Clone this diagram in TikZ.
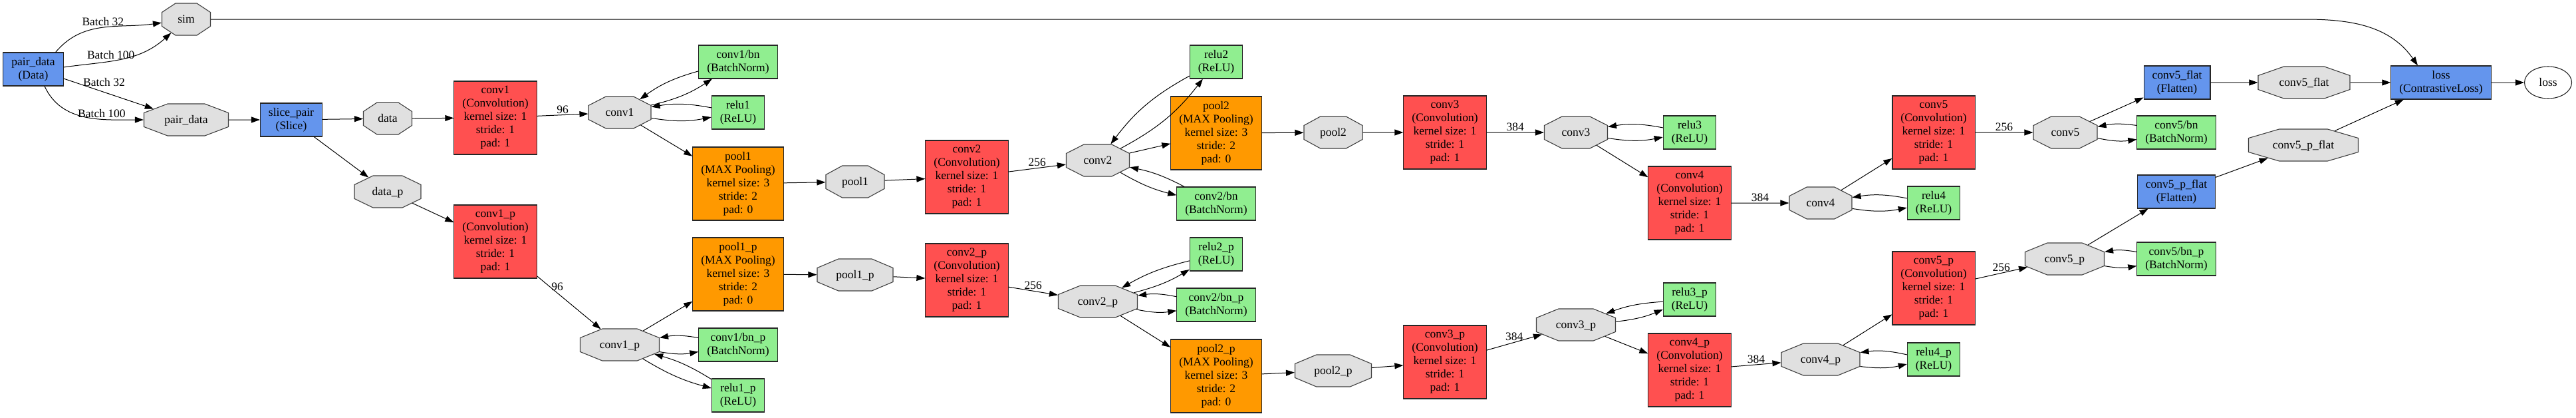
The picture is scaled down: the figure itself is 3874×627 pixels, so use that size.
\documentclass[tikz,border=0pt]{standalone}
\usepackage{fontspec}
\setmainfont{Liberation Serif}
\usetikzlibrary{shapes.misc,shapes.geometric,arrows.meta}

\definecolor{convred}{HTML}{FF5050}
\definecolor{poolorange}{HTML}{FF9900}
\definecolor{bngreen}{HTML}{90EE90}
\definecolor{datablue}{HTML}{6495ED}
\definecolor{blobgray}{HTML}{E0E0E0}

\newcommand\gvfont{\fontsize{17.5}{20}\selectfont}

\tikzset{
  layer/.style={rectangle, draw=black!85, line width=1.1pt, align=center,
    inner xsep=12.5pt, inner ysep=0pt, font=\gvfont},
  conv/.style={layer, fill=convred, minimum height=110},
  pool/.style={layer, fill=poolorange, minimum height=110},
  inplace/.style={layer, fill=bngreen, minimum height=50},
  io/.style={layer, fill=datablue, minimum height=50},
  blob/.code={%
    \pgfmathsetmacro\blobtw{0.72*#1}%
    \pgfmathsetmacro\blobxs{0.14*#1}%
    \pgfmathsetmacro\blobang{atan(0.28*#1/13.5)}%
    \tikzset{chamfered rectangle, chamfered rectangle xsep=\blobxs pt,
      chamfered rectangle ysep=6.75pt, chamfered rectangle angle=\blobang,
      text width=\blobtw pt, text height=22.25pt, text depth=12.25pt,
      align=center, inner sep=0pt, draw=black!75, line width=1.1pt,
      fill=blobgray, font=\gvfont}},
  arr/.style={-{Triangle[length=13pt,width=9pt]}, line width=1pt},
  lbl/.style={font=\gvfont, inner sep=2pt},
}

\begin{document}
\begin{tikzpicture}[x=1pt,y=1pt]
\useasboundingbox (0,0) rectangle (3874,-627);

% input and split
\node[io] (pairdata) at (50,-104) {pair\_data\\(Data)};
\node[blob=73] (simb) at (280,-29) {sim};
\node[blob=127] (pairdatab) at (280,-180) {pair\_data};
\node[io] (slicepair) at (438,-180) {slice\_pair\\(Slice)};
\node[blob=73] (datab) at (583,-178) {data};
\node[blob=100] (datapb) at (583,-288) {data\_p};

% upper branch
\node[conv] (conv1) at (745,-177) {conv1\\(Convolution)\\kernel size: 1\\stride: 1\\pad: 1};
\node[blob=94] (conv1b) at (932,-169) {conv1};
\node[inplace] (conv1bn) at (1110,-93) {conv1/bn\\(BatchNorm)};
\node[inplace] (relu1) at (1110,-169) {relu1\\(ReLU)};
\node[pool] (pool1) at (1110,-276) {pool1\\(MAX Pooling)\\kernel size: 3\\stride: 2\\pad: 0};
\node[blob=88] (pool1b) at (1286,-273) {pool1};
\node[conv] (conv2) at (1454,-266) {conv2\\(Convolution)\\kernel size: 1\\stride: 1\\pad: 1};
\node[blob=95] (conv2b) at (1651,-241) {conv2};
\node[inplace] (relu2) at (1829,-93) {relu2\\(ReLU)};
\node[pool] (pool2) at (1829,-200) {pool2\\(MAX Pooling)\\kernel size: 3\\stride: 2\\pad: 0};
\node[inplace] (conv2bn) at (1829,-306) {conv2/bn\\(BatchNorm)};
\node[blob=88] (pool2b) at (2005,-199) {pool2};
\node[conv] (conv3) at (2173,-199) {conv3\\(Convolution)\\kernel size: 1\\stride: 1\\pad: 1};
\node[blob=95] (conv3b) at (2370,-199) {conv3};
\node[inplace] (relu3) at (2541,-199) {relu3\\(ReLU)};
\node[conv] (conv4) at (2541,-305) {conv4\\(Convolution)\\kernel size: 1\\stride: 1\\pad: 1};
\node[blob=94] (conv4b) at (2738,-305) {conv4};
\node[inplace] (relu4) at (2908,-305) {relu4\\(ReLU)};
\node[conv] (conv5) at (2908,-199) {conv5\\(Convolution)\\kernel size: 1\\stride: 1\\pad: 1};
\node[blob=96] (conv5b) at (3106,-199) {conv5};
\node[inplace] (conv5bn) at (3273,-199) {conv5/bn\\(BatchNorm)};
\node[io] (conv5flat) at (3274,-124) {conv5\_flat\\(Flatten)};
\node[blob=138] (conv5flatb) at (3465,-124) {conv5\_flat};

% lower branch
\node[conv] (conv1p) at (745,-363) {conv1\_p\\(Convolution)\\kernel size: 1\\stride: 1\\pad: 1};
\node[blob=119] (conv1pb) at (932,-518) {conv1\_p};
\node[pool] (pool1p) at (1110,-412) {pool1\_p\\(MAX Pooling)\\kernel size: 3\\stride: 2\\pad: 0};
\node[inplace] (conv1bnp) at (1110,-518) {conv1/bn\_p\\(BatchNorm)};
\node[inplace] (relu1p) at (1110,-594) {relu1\_p\\(ReLU)};
\node[blob=114] (pool1pb) at (1286,-413) {pool1\_p};
\node[conv] (conv2p) at (1454,-421) {conv2\_p\\(Convolution)\\kernel size: 1\\stride: 1\\pad: 1};
\node[blob=119] (conv2pb) at (1651,-453) {conv2\_p};
\node[inplace] (relu2p) at (1829,-382) {relu2\_p\\(ReLU)};
\node[inplace] (conv2bnp) at (1829,-458) {conv2/bn\_p\\(BatchNorm)};
\node[pool] (pool2p) at (1829,-565) {pool2\_p\\(MAX Pooling)\\kernel size: 3\\stride: 2\\pad: 0};
\node[blob=115] (pool2pb) at (2005,-557) {pool2\_p};
\node[conv] (conv3p) at (2173,-544) {conv3\_p\\(Convolution)\\kernel size: 1\\stride: 1\\pad: 1};
\node[blob=119] (conv3pb) at (2370,-488) {conv3\_p};
\node[inplace] (relu3p) at (2541,-450) {relu3\_p\\(ReLU)};
\node[conv] (conv4p) at (2541,-556) {conv4\_p\\(Convolution)\\kernel size: 1\\stride: 1\\pad: 1};
\node[blob=118] (conv4pb) at (2738,-540) {conv4\_p};
\node[inplace] (relu4p) at (2908,-540) {relu4\_p\\(ReLU)};
\node[conv] (conv5p) at (2908,-433) {conv5\_p\\(Convolution)\\kernel size: 1\\stride: 1\\pad: 1};
\node[blob=119] (conv5pb) at (3105,-389) {conv5\_p};
\node[inplace] (conv5bnp) at (3273,-389) {conv5/bn\_p\\(BatchNorm)};
\node[io] (conv5pflat) at (3273,-288) {conv5\_p\_flat\\(Flatten)};
\node[blob=165] (conv5pflatb) at (3464,-218) {conv5\_p\_flat};

% loss
\node[io] (loss) at (3671,-124) {loss\\(ContrastiveLoss)};
\node[ellipse, draw=black!85, line width=1.1pt, minimum width=71, minimum height=48, inner sep=0pt, font=\gvfont] (lossb) at (3832,-124) {loss};
\coordinate (simturn) at (3467,-29);

% edges from the data layer
\draw[arr] ([xshift=-12pt]pairdata.north east) to[out=50,in=188] node[lbl,midway,above]{Batch 32} (simb);
\draw[arr] ([yshift=3pt]pairdata.east) to[out=8,in=222] node[lbl,pos=0.4,above]{Batch 100} (simb);
\draw[arr] ([yshift=-14pt]pairdata.east) -- node[lbl,pos=0.45,above=6pt]{Batch 32} (pairdatab);
\draw[arr] ([xshift=17pt]pairdata.south) to[out=-65,in=180] node[lbl,pos=0.65,above]{Batch 100} (pairdatab);
\draw[arr] (simb) -- (simturn) to[out=0,in=125] ([xshift=-35pt]loss.north);
\draw[arr] (pairdatab) -- (slicepair);
\draw[arr] (slicepair) -- (datab);
\draw[arr] (slicepair) -- (datapb);
\draw[arr] (datab) -- (conv1);
\draw[arr] (datapb) -- (conv1p);

% upper branch edges
\draw[arr] (conv1) -- node[lbl,midway,above]{96} (conv1b);
\draw[arr] (conv1b) to[bend right=10] (conv1bn);
\draw[arr] (conv1bn) to[bend right=10] (conv1b);
\draw[arr] (conv1b) to[bend right=10] (relu1);
\draw[arr] (relu1) to[bend right=10] (conv1b);
\draw[arr] (conv1b) -- (pool1);
\draw[arr] (pool1) -- (pool1b);
\draw[arr] (pool1b) -- (conv2);
\draw[arr] (conv2) -- node[lbl,midway,above]{256} (conv2b);
\draw[arr] (conv2b) to[bend right=12] (relu2);
\draw[arr] (relu2) to[bend right=12] (conv2b);
\draw[arr] (conv2b) -- (pool2);
\draw[arr] (conv2b) to[bend right=8] (conv2bn);
\draw[arr] (conv2bn) to[bend right=8] (conv2b);
\draw[arr] (pool2) -- (pool2b);
\draw[arr] (pool2b) -- (conv3);
\draw[arr] (conv3) -- node[lbl,midway,above]{384} (conv3b);
\draw[arr] (conv3b) to[bend right=10] (relu3);
\draw[arr] (relu3) to[bend right=10] (conv3b);
\draw[arr] (conv3b) -- (conv4);
\draw[arr] (conv4) -- node[lbl,midway,above]{384} (conv4b);
\draw[arr] (conv4b) to[bend right=10] (relu4);
\draw[arr] (relu4) to[bend right=10] (conv4b);
\draw[arr] (conv4b) -- (conv5);
\draw[arr] (conv5) -- node[lbl,midway,above]{256} (conv5b);
\draw[arr] (conv5b) to[bend right=10] (conv5bn);
\draw[arr] (conv5bn) to[bend right=10] (conv5b);
\draw[arr] (conv5b) -- (conv5flat);
\draw[arr] (conv5flat) -- (conv5flatb);
\draw[arr] (conv5flatb) -- (loss);

% lower branch edges
\draw[arr] (conv1p) -- node[lbl,pos=0.2,right]{96} (conv1pb);
\draw[arr] (conv1pb) -- (pool1p);
\draw[arr] (conv1pb) to[bend right=10] (conv1bnp);
\draw[arr] (conv1bnp) to[bend right=10] (conv1pb);
\draw[arr] (conv1pb) to[bend right=8] (relu1p);
\draw[arr] (relu1p) to[bend right=8] (conv1pb);
\draw[arr] (pool1p) -- (pool1pb);
\draw[arr] (pool1pb) -- (conv2p);
\draw[arr] (conv2p) -- node[lbl,midway,above]{256} (conv2pb);
\draw[arr] (conv2pb) to[bend right=8] (relu2p);
\draw[arr] (relu2p) to[bend right=8] (conv2pb);
\draw[arr] (conv2pb) to[bend right=10] (conv2bnp);
\draw[arr] (conv2bnp) to[bend right=10] (conv2pb);
\draw[arr] (conv2pb) -- (pool2p);
\draw[arr] (pool2p) -- (pool2pb);
\draw[arr] (pool2pb) -- (conv3p);
\draw[arr] (conv3p) -- node[lbl,midway,above]{384} (conv3pb);
\draw[arr] (conv3pb) to[bend right=8] (relu3p);
\draw[arr] (relu3p) to[bend right=8] (conv3pb);
\draw[arr] (conv3pb) -- (conv4p);
\draw[arr] (conv4p) -- node[lbl,midway,above]{384} (conv4pb);
\draw[arr] (conv4pb) to[bend right=10] (relu4p);
\draw[arr] (relu4p) to[bend right=10] (conv4pb);
\draw[arr] (conv4pb) -- (conv5p);
\draw[arr] (conv5p) -- node[lbl,midway,above]{256} (conv5pb);
\draw[arr] (conv5pb) to[bend right=10] (conv5bnp);
\draw[arr] (conv5bnp) to[bend right=10] (conv5pb);
\draw[arr] (conv5pb) -- (conv5pflat);
\draw[arr] (conv5pflat) -- (conv5pflatb);
\draw[arr] (conv5pflatb) -- (loss);
\draw[arr] (loss) -- (lossb);
\end{tikzpicture}
\end{document}
